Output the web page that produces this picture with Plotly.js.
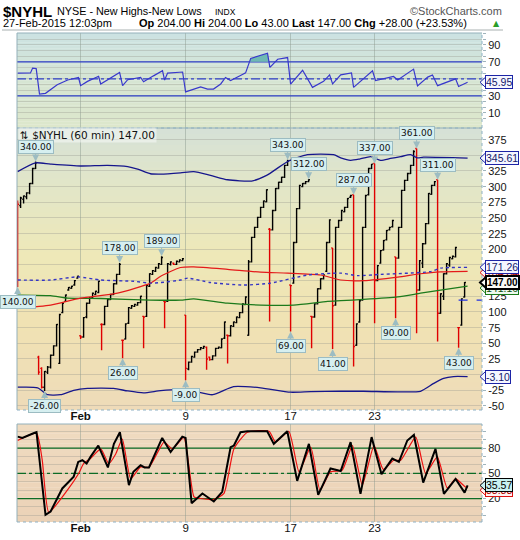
<!DOCTYPE html>
<html>
<head>
<meta charset="utf-8">
<script src="https://cdn.plot.ly/plotly-3.0.1.min.js"></script>
<style>
html,body{margin:0;padding:0;background:#ffffff;}
#chart{width:520px;height:540px;}
</style>
</head>
<body>
<div id="chart"></div>
<script>
// ---------------- DATA ----------------
const sessions = ['2015-01-28','2015-01-29','2015-01-30','2015-02-02','2015-02-03','2015-02-04','2015-02-05','2015-02-06',
  '2015-02-09','2015-02-10','2015-02-11','2015-02-12','2015-02-13','2015-02-17','2015-02-18','2015-02-19','2015-02-20',
  '2015-02-23','2015-02-24','2015-02-25','2015-02-26','2015-02-27'];
const sessionHours = ['09:30','10:30','11:30','12:30','13:30','14:30','15:30'];

const opens = [
  276,270,280,284,290,305,329,  28,10,-20,4,12,31,46,  18,99,117,135,138,143,154,
  62,60,92,114,123,128,131,  80,80,109,120,128,145,160,  55,57,82,106,109,111,115,
  93,93,141,160,165,170,176,  117,117,176,178,176,180,182,  95,9,20,28,36,40,42,
  44,28,24,30,42,43,58,  63,62,77,83,91,99,112,  63,180,219,235,251,267,276,
  232,231,262,297,307,315,334,  143,146,211,265,300,305,308,  93,92,113,137,153,165,211,
  202,111,235,246,260,267,283,  287,47,84,119,235,287,329,  337,150,178,199,215,231,236,
  188,186,235,294,310,321,334,  361,135,178,209,241,288,302,  311,98,125,161,175,185,188,
  75,79,124];
const highs = [
  278,284,286,291,306,330,340,  30,12,6,14,32,47,81,  97,115,128,140,142,151,158,
  63,92,115,124,131,134,150,  82,110,121,129,146,161,178,  56,82,108,111,113,116,126,
  94,143,162,167,172,178,189,  118,178,181,179,182,184,186,  95,21,30,37,41,44,46,
  45,29,31,43,45,58,85,  64,79,85,93,100,114,125,  183,220,236,252,268,278,296,
  234,263,298,308,316,335,343,  143,212,266,303,306,309,312,  94,114,138,154,160,212,248,
  202,236,247,263,268,282,287,  287,82,119,236,287,330,336,  337,175,199,215,231,236,247,
  188,236,295,311,322,335,358,  361,183,210,242,290,303,309,  311,130,162,178,188,190,204,
  76,122,148];
const lows = [
  140,266,273,280,288,304,328,  0,-22,-26,1,10,30,45,  17,98,116,134,137,142,153,
  57,59,90,113,122,127,130,  39,79,108,119,127,144,159,  26,56,81,105,108,110,114,
  42,92,140,159,164,169,175,  74,116,174,175,175,179,181,  -9,7,19,27,35,39,41,
  8,22,23,29,41,42,57,  18,61,76,82,90,98,111,  62,179,218,234,250,266,275,
  85,230,261,296,306,314,333,  69,145,210,264,299,304,307,  42,91,112,136,152,164,210,
  41,110,234,245,259,266,282,  13,46,83,118,234,286,328,  82,149,177,198,214,230,235,
  90,185,234,293,309,320,333,  66,134,170,208,240,287,301,  53,97,119,160,172,184,187,
  43,78,123];
const closes = [
  272,282,285,290,305,329,338,  4,-20,5,12,31,46,80,  96,114,127,139,141,150,157,
  60,91,114,122,130,133,149,  80,109,120,128,145,160,176,  55,81,107,110,112,115,125,
  92,142,161,166,171,177,187,  116,177,180,176,181,183,185,  10,20,29,36,40,43,45,
  25,24,30,42,44,57,84,  62,78,84,92,99,113,124,  180,219,235,251,267,277,295,
  231,262,297,307,315,334,341,  142,211,265,302,305,308,311,  92,113,137,153,159,211,247,
  110,235,246,262,267,281,286,  45,81,118,235,286,329,336,  150,174,198,214,230,235,246,
  186,235,294,310,321,334,356,  135,182,209,241,289,302,308,  98,129,161,177,187,189,203,
  75,121,147];

// Bollinger bands (x in bar positions)
const upperBandX = [0,6,11,21,30,36.7,40,44.3,47.7,54.3,58.7,64.3,70,78,83,90,96.6,105.3,107.7,111,114,117.7,121,124.3,127.7,131,133.2,135.3,150];
const upperBandY = [324,338,336,333,334,332,328,320.6,320,322,324,318,311,309,318,340,351,351,346,342,344,348,342,345,348,351,346,347,345.61];
const middleBandX = [0,11,20,27.7,38.7,44.3,47.7,54.3,56.7,64.3,75.3,84.3,96.7,107.7,113.3,121,137.7,141,150];
const middleBandY = [151,151,156,151,149,146,147,151,154,147,143,146,159,162,158,160,164.5,170,171.26];
const lowerBandX = [0,6.7,10,14.3,18.7,23.3,32,36.7,42,47.7,54.3,58.7,65,72,81,91,97.7,107.7,115.3,126.7,134.3,138.7,142,145.3,150];
const lowerBandY = [-20,-21,-32,-32,-25,-22,-22,-26,-29,-25.5,-24,-26,-32,-19,-21,-28,-27,-26.5,-26.5,-27.5,-26.5,-14,-6,-3,-3.10];
// moving averages
const redMAX = [0,11,21,33.3,44.3,47.7,54.3,58.7,70,81,90,101,107.7,115.3,126.7,134.3,141,150];
const redMAY = [106,111,122,130,146,157,171,172,168,163.5,162,159,151,150,155.6,161,164,164.84];
const greenMAX = [0,11,16.7,27.7,44.3,54.3,58.7,70,81,92,103.3,107.7,115.3,126.7,134.3,141,150];
const greenMAY = [127,126,122,121.5,119,119,121,114,111,111,117,118,120,124,130,135,141.16];
const prevCloseX = [147,154.8];
const prevCloseY = [119,119];

// RSI (top panel)
const rsiX = [0,4.3,5,6.2,7.3,9.3,13.2,16.7,20.3,21,23.3,27,27.7,31,34,35,36.7,41,42,45.3,48.3,49,50,55,56,61,63.3,65.3,67.7,69.3,71,74.3,76,77.7,83.3,84.1,86.7,90,91,95,98.3,102,104,105,107.7,111.3,112,118.3,119.3,125.3,126.7,132,133.3,136.7,138.3,140,146,147,150];
const rsiY = [56.7,57,62.6,62,32,33,43,48.6,51.6,42,47,53,44,51.6,57.5,42,49,51.6,46.5,53.5,59.5,48.6,56.7,58,34.7,40.6,38,38,44,51.6,48,54,57,74,80,63.4,73,75,43.8,60,40,47,54.6,44,54.6,57,40,59.5,48,52.8,48.6,61.4,41.6,52,54.6,42,50,41,45.95];
const rsiFillX = [77.3,77.7,83.3,83.8];
const rsiFillY = [70,74,80,70];

// Stochastics (bottom panel)
const stochKX = [0,1.6,5.3,6.3,9.3,11,14.9,18.7,20.2,21.6,23,24.3,26.9,28.2,30.1,32.1,34.1,37.1,38.6,41,42.3,43.8,48.2,51,54.9,56,58,61.6,65.4,68.2,71,72.1,74.3,76.6,83.2,85.4,89.9,93.2,97.1,100.2,104.3,107.7,111,114.3,118,121.3,124.9,127.1,129.9,132.1,135.2,139.3,142.1,146,149,150];
const stochKY = [93.6,92,97.6,99,0.7,4.6,32,46,63.5,65.5,61.6,69.5,83,71.5,57,85,98.8,36,51.8,59.6,57,57,92,75.3,93.6,92,14.5,26,16.5,28,81,83,98.8,100,100,85,100,41,85,24.3,55.7,52.7,87,25.5,93,49,67.5,63.5,89,95.6,39,79,25.5,43.3,27,35.57];
const stochDX = [0,6.3,8.2,10.4,16.6,20.4,22.1,24.3,27.7,30.4,32.7,34.9,37.7,41,43.8,48.8,51.6,55.4,58.8,61,65.4,68.8,72.1,76.6,83.8,86,90.4,93.8,97.7,100.8,104.3,108.2,111.6,114.9,118.8,121.9,125.4,127.7,132.7,136,139.9,143.2,146,149.3,150];
const stochDY = [89,97.6,66,3.5,30,50,62,67.6,79,61.6,73,90.6,43.5,57.6,57,87,79,92.6,22,20,19,26,79,98.8,100,87,100,51.8,81,30,51.8,53.7,83,36,83,54.7,65.5,65.5,93,50,69.5,32.6,43.3,33.7,33.33];

// labelled swing points (bar positions)
const highLabelBars = [6,34,48,90,97,112,119,133,140];
const lowLabelBars = [0,9,35,56,91,105,126,147];

// axis tick sessions
const tickSessions = ['2015-02-02','2015-02-09','2015-02-17','2015-02-23'];
const tickLabels = ['<b>Feb</b>','9','17','23'];

// header quote
const quote = {open:204.00, high:204.00, low:43.00, chg:28.00, chgPct:23.53};

// ---------------- BUILD ----------------
const barTime = [];
sessions.forEach(s => sessionHours.forEach(h => { if (barTime.length < closes.length) barTime.push(s + ' ' + h); }));
const barX = barTime.map((t, i) => i);
const tickX = tickSessions.map(s => barTime.indexOf(s + ' 09:30'));

const isDown = closes.map((c, i) => i === 0 ? c < opens[0] : c < closes[i - 1]);
const pick = (arr, down) => arr.filter((_, i) => isDown[i] === down);

const W = 520, H = 540, L = 17, R = 38;
const px = x => (x - L) / (W - L - R);
const py = y => 1 - y / H;
const dom = {
  top: [py(128), py(33)],
  main: [py(410), py(128)],
  bot: [py(522), py(424)]
};
const ranges = { y: [-7.7, 103.8], y2: [-56.4, 393.6], y3: [-7.9, 108.6] };
const domFor = { y: dom.top, y2: dom.main, y3: dom.bot };
const unitPx = ax => (domFor[ax][1] - domFor[ax][0]) * H / (ranges[ax][1] - ranges[ax][0]);
const xRange = [-0.2, 154.8];

const shapes = [];
const annotations = [];

function hex(c){ c=c.replace('#',''); return [0,2,4].map(k=>parseInt(c.substr(k,2),16)); }
function interp(stops, t){
  for (let k=0;k<stops.length-1;k++){
    const [t0,c0]=stops[k],[t1,c1]=stops[k+1];
    if (t>=t0 && t<=t1){ const f=(t-t0)/(t1-t0); const a=hex(c0),b=hex(c1);
      return 'rgb('+a.map((v,j)=>Math.round(v+(b[j]-v)*f)).join(',')+')'; }
  }
  return stops[stops.length-1][1];
}
function gradient(xref, yref, stops, n){
  for (let k=0;k<n;k++){
    const t0=k/n, t1=(k+1)/n;
    shapes.push({type:'rect', xref, yref, x0:0, x1:1, y0:t0, y1:Math.min(1,t1+0.003),
      fillcolor: interp(stops,(t0+t1)/2), line:{width:0}, layer:'below'});
  }
}
gradient('x domain','y domain',[[0,'#dde7cb'],[0.5,'#d6e5d3'],[1,'#cce2e3']],30);
gradient('x2 domain','y2 domain',[[0,'#eedbb9'],[0.3,'#f0e2b3'],[0.55,'#eee8b8'],[0.8,'#e2e6c8'],[1,'#d5e1d7']],50);
gradient('x3 domain','y3 domain',[[0,'#ebd2b7'],[1,'#efdbc0']],20);

// panel frames: solid top/left, dotted right/bottom
function frameBox(xa, ya){
  const xd = xa + ' domain', yd = ya + ' domain';
  const solid = {color:'#93b0ba', width:1}, dotted = {color:'#8fb2c6', width:1, dash:'dot'};
  shapes.push({type:'line', xref:xd, yref:yd, x0:0, x1:1, y0:1, y1:1, line:solid, layer:'above'});
  shapes.push({type:'line', xref:xd, yref:yd, x0:0, x1:0, y0:0, y1:1, line:solid, layer:'above'});
  shapes.push({type:'line', xref:xd, yref:yd, x0:1, x1:1, y0:0, y1:1, line:dotted, layer:'above'});
  shapes.push({type:'line', xref:xd, yref:yd, x0:0, x1:1, y0:0, y1:0, line:dotted, layer:'above'});
}
frameBox('x','y'); frameBox('x2','y2'); frameBox('x3','y3');

// header
shapes.push({type:'line', xref:'paper', yref:'paper', x0:px(2), x1:px(503), y0:py(30), y1:py(30), line:{color:'#a8b0b0', width:1}});
const hdrFont = 'Liberation Sans, Arial, sans-serif';
annotations.push({xref:'paper', yref:'paper', x:px(1), y:py(11), xanchor:'left', yanchor:'middle', showarrow:false,
  text:'<b>$NYHL</b>', font:{family:hdrFont, size:15, color:'#000'}});
annotations.push({xref:'paper', yref:'paper', x:px(55), y:py(11.5), xanchor:'left', yanchor:'middle', showarrow:false,
  text:'NYSE - New Highs-New Lows', font:{family:hdrFont, size:10.8, color:'#000'}});
annotations.push({xref:'paper', yref:'paper', x:px(213), y:py(12), xanchor:'left', yanchor:'middle', showarrow:false,
  text:'INDX', font:{family:hdrFont, size:8.5, color:'#000'}});
annotations.push({xref:'paper', yref:'paper', x:px(504), y:py(11), xanchor:'right', yanchor:'middle', showarrow:false,
  text:'©StockCharts.com', font:{family:hdrFont, size:11, color:'#555'}});
annotations.push({xref:'paper', yref:'paper', x:px(1), y:py(23.5), xanchor:'left', yanchor:'middle', showarrow:false,
  text:'27-Feb-2015 12:03pm', font:{family:hdrFont, size:11, color:'#000'}});
const last = closes[closes.length-1];
annotations.push({xref:'paper', yref:'paper', x:px(137), y:py(23.5), xanchor:'left', yanchor:'middle', showarrow:false,
  text:'<b>Op</b> '+quote.open.toFixed(2)+' <b>Hi</b> '+quote.high.toFixed(2)+' <b>Lo</b> '+quote.low.toFixed(2)+
       ' <b>Last</b> '+last.toFixed(2)+' <b>Chg</b> +'+quote.chg.toFixed(2)+' (+'+quote.chgPct.toFixed(2)+'%)',
  font:{family:hdrFont, size:11, color:'#000'}});
annotations.push({xref:'paper', yref:'paper', x:px(491), y:py(24), xanchor:'left', yanchor:'middle', showarrow:false,
  text:'▲', font:{family:'DejaVu Sans', size:8, color:'#2a9d2a'}});

// main panel title
annotations.push({xref:'paper', yref:'paper', x:px(18), y:py(134.5), xanchor:'left', yanchor:'middle', showarrow:false,
  text:'⇅ $NYHL (60 min) '+last.toFixed(2), font:{family:'DejaVu Sans', size:10.5, color:'#111'},
  bgcolor:'rgba(255,255,255,0.45)', borderpad:1});

// swing callouts
const calloutStyle = {bgcolor:'#d6eff0', bordercolor:'#9cbcc2', borderwidth:1, borderpad:1,
  font:{family:'DejaVu Sans', size:9, color:'#111'}, showarrow:true, arrowhead:2, arrowsize:1.4, arrowwidth:1,
  arrowcolor:'#9cbcc2', ax:0, xref:'x2', yref:'y2'};
highLabelBars.forEach(i => annotations.push(Object.assign({}, calloutStyle, {x:barX[i], y:highs[i], ay:-15, text:highs[i].toFixed(2)})));
lowLabelBars.forEach(i => annotations.push(Object.assign({}, calloutStyle, {x:barX[i], y:lows[i], ay:15, text:lows[i].toFixed(2)})));

// right-side value tags
function sideTag(yref, value, text, st){
  const h = 5.5 / unitPx(yref);
  shapes.push({type:'path', xref:'paper', yref, layer:'above',
    path:'M '+px(480)+','+value+' L '+px(486)+','+(value+h)+' L '+px(486)+','+(value-h)+' Z',
    fillcolor:st.bg, line:{color:st.border, width:st.bw||1}});
  annotations.push({xref:'paper', yref, x:px(484.5), xanchor:'left', y:value, yanchor:'middle', showarrow:false,
    text, bgcolor:st.bg, bordercolor:st.border, borderwidth:st.bw||1, borderpad:0,
    font:{family:'Liberation Sans, Arial', size:st.size||10.5, color:st.color}});
}
const navyTag = {bg:'#f4f6ff', border:'#1d24a6', color:'#14186a'};
const lastOf = a => a[a.length-1];
sideTag('y2', lastOf(redMAY)-2, lastOf(redMAY).toFixed(2), {bg:'#fff2f2', border:'#dd1111', color:'#aa0000'});
sideTag('y2', lastOf(greenMAY)-3, lastOf(greenMAY).toFixed(2), {bg:'#effaef', border:'#1a7a1a', color:'#105010'});
sideTag('y2', lastOf(upperBandY), lastOf(upperBandY).toFixed(2), navyTag);
sideTag('y2', lastOf(middleBandY), lastOf(middleBandY).toFixed(2), navyTag);
sideTag('y2', lastOf(lowerBandY), lastOf(lowerBandY).toFixed(2), navyTag);
sideTag('y2', last, '<b>'+last.toFixed(2)+'</b>', {bg:'#fbfbf6', border:'#000', color:'#000', bw:2, size:10});
sideTag('y', lastOf(rsiY), lastOf(rsiY).toFixed(2), navyTag);
sideTag('y3', lastOf(stochDY)-3.5, lastOf(stochDY).toFixed(2), {bg:'#fff2f2', border:'#dd1111', color:'#aa0000'});
sideTag('y3', lastOf(stochKY), lastOf(stochKY).toFixed(2), {bg:'#c9f1f1', border:'#000', color:'#000'});

// ---------------- TRACES ----------------
const traces = [];
function guide(xa, ya, level, color, dash, w){
  traces.push({type:'scatter', x:xRange, y:[level, level], xaxis:xa, yaxis:ya, mode:'lines',
    line:{color, width:w, dash}, hoverinfo:'skip', showlegend:false});
}
guide('x','y',70,'#2f3fc8','solid',1.2);
guide('x','y',30,'#2f3fc8','solid',1.2);
guide('x','y',50,'#2f3fc8','dashdot',1.1);
guide('x3','y3',80,'#0c6b25','solid',1.3);
guide('x3','y3',20,'#0c6b25','solid',1.3);
guide('x3','y3',50,'#0c6b25','dashdot',1.2);
// RSI
traces.push({type:'scatter', x:rsiFillX, y:rsiFillY, xaxis:'x', yaxis:'y', mode:'lines', fill:'toself',
  fillcolor:'#6fb9b3', line:{width:0}, hoverinfo:'skip', showlegend:false});
traces.push({type:'scatter', x:rsiX, y:rsiY, xaxis:'x', yaxis:'y', mode:'lines',
  line:{color:'#3838cc', width:1.2}, hoverinfo:'skip', showlegend:false});
// main overlays
traces.push({type:'scatter', x:greenMAX, y:greenMAY, xaxis:'x2', yaxis:'y2', mode:'lines', line:{color:'#1c7a1c', width:1.3, shape:'spline', smoothing:0.6}, hoverinfo:'skip', showlegend:false});
traces.push({type:'scatter', x:redMAX, y:redMAY, xaxis:'x2', yaxis:'y2', mode:'lines', line:{color:'#e41a1a', width:1.2, shape:'spline', smoothing:0.6}, hoverinfo:'skip', showlegend:false});
traces.push({type:'scatter', x:middleBandX, y:middleBandY, xaxis:'x2', yaxis:'y2', mode:'lines', line:{color:'#3434c4', width:1.4, dash:'dot', shape:'spline', smoothing:0.6}, hoverinfo:'skip', showlegend:false});
traces.push({type:'scatter', x:upperBandX, y:upperBandY, xaxis:'x2', yaxis:'y2', mode:'lines', line:{color:'#16168c', width:1.3, shape:'spline', smoothing:0.6}, hoverinfo:'skip', showlegend:false});
traces.push({type:'scatter', x:lowerBandX, y:lowerBandY, xaxis:'x2', yaxis:'y2', mode:'lines', line:{color:'#16168c', width:1.3, shape:'spline', smoothing:0.6}, hoverinfo:'skip', showlegend:false});
traces.push({type:'scatter', x:prevCloseX, y:prevCloseY, xaxis:'x2', yaxis:'y2', mode:'lines', line:{color:'#2230e0', width:1.4, dash:'dash'}, hoverinfo:'skip', showlegend:false});
// price bars
[[false,'#000000'],[true,'#e00000']].forEach(([down,color]) => {
  traces.push({type:'ohlc', x:pick(barX,down), open:pick(opens,down), high:pick(highs,down), low:pick(lows,down), close:pick(closes,down),
    xaxis:'x2', yaxis:'y2', tickwidth:0.45,
    increasing:{line:{color, width:1.4}}, decreasing:{line:{color, width:1.4}}, hoverinfo:'skip', showlegend:false});
});
// stochastics
traces.push({type:'scatter', x:stochDX, y:stochDY, xaxis:'x3', yaxis:'y3', mode:'lines', line:{color:'#ee1111', width:1.2, shape:'spline', smoothing:0.5}, hoverinfo:'skip', showlegend:false});
traces.push({type:'scatter', x:stochKX, y:stochKY, xaxis:'x3', yaxis:'y3', mode:'lines', line:{color:'#000000', width:2}, hoverinfo:'skip', showlegend:false});

// ---------------- LAYOUT ----------------
const frame = {showline:false, zeroline:false};
const gridX = {showgrid:true, gridcolor:'rgba(135,150,140,0.45)', gridwidth:1};
function xaxis(anchor, labels){
  return Object.assign({}, frame, gridX, {anchor, domain:[0,1], range:xRange, type:'linear',
    tickmode:'array', tickvals:tickX, ticktext:tickLabels, showticklabels:labels, ticks:'',
    ticklabelstandoff:-3,
    tickfont:{family:'Liberation Sans, Arial', size:11.5, color:'#111'}, fixedrange:true, rangeslider:{visible:false}});
}
const tickFont = {family:'Liberation Sans, Arial', size:11, color:'#151515'};
function yaxis(anchor, domain, range, tickvals, ticktext){
  return Object.assign({}, frame, {anchor, domain, range, side:'right', tickmode:'array', tickvals, ticktext,
    ticks:'outside', ticklen:3, tickcolor:'#9fb4bc', tickfont:tickFont, showgrid:true,
    gridcolor:'rgba(150,150,140,0.35)', gridwidth:1, fixedrange:true});
}
// tick labels that sit under a value tag are left blank, as in the original
const topLabelled = [10,30,70,90];
const mainHidden = [350,175,150,0];
const topVals = [], topText = [];
for (let k=-1;k<=15;k++){ const v = 10 + k*20/3; topVals.push(v); const r = Math.round(v); topText.push(Math.abs(v-r)<0.01 && topLabelled.includes(r) ? String(r) : ''); }
const mainVals = [], mainText = [];
for (let v=-50; v<=375; v+=25){ mainVals.push(v); mainText.push(mainHidden.includes(v) ? '' : String(v)); }
const botVals = [], botText = [];
for (let v=0; v<=100; v+=10){ botVals.push(v); botText.push([20,50,80].includes(v) ? String(v) : ''); }

const layout = {
  width:W, height:H, margin:{l:L, r:R, t:0, b:0}, paper_bgcolor:'#ffffff', plot_bgcolor:'rgba(0,0,0,0)',
  showlegend:false, hovermode:false,
  xaxis: xaxis('y', false),
  xaxis2: xaxis('y2', true),
  xaxis3: xaxis('y3', true),
  yaxis: yaxis('x', dom.top, ranges.y, topVals, topText),
  yaxis2: yaxis('x2', dom.main, ranges.y2, mainVals, mainText),
  yaxis3: yaxis('x3', dom.bot, ranges.y3, botVals, botText),
  shapes, annotations
};

Plotly.newPlot('chart', traces, layout, {displayModeBar:false, staticPlot:true});
</script>
</body>
</html>
